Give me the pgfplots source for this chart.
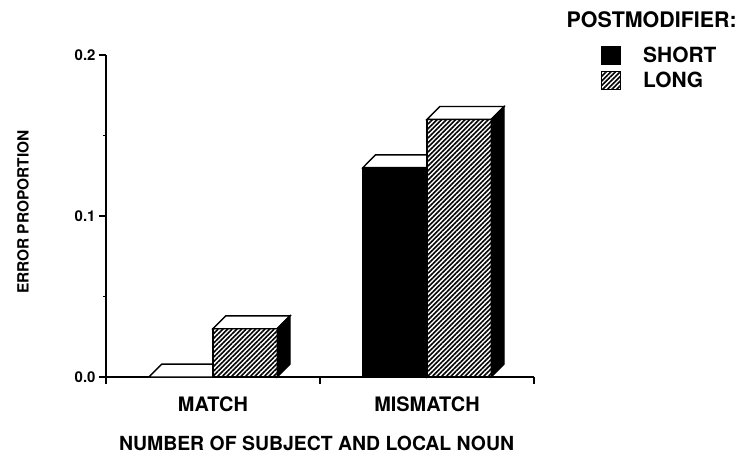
\documentclass[border=0pt]{standalone}
\usepackage{pgfplots}
\pgfplotsset{compat=1.18}
\usetikzlibrary{patterns.meta}
\usepackage{fontspec}
\setmainfont{TeX Gyre Heros}
\newcommand\fs[1]{\fontsize{#1}{#1}\selectfont\bfseries}

\begin{document}
\begin{tikzpicture}
\useasboundingbox (-106bp,-77bp) rectangle (634bp,377bp);
\begin{axis}[
  at={(0,0)}, anchor=south west,
  scale only axis, width=428bp, height=322bp,
  xmin=0, xmax=2, ymin=0, ymax=0.2,
  axis lines=left, axis line style={-, line width=1.4bp},
  clip=false,
  xtick={0,1,2}, xticklabel=\empty,
  ytick={0,0.1,0.2}, minor ytick={0.05,0.15},
  tick align=outside, major tick length=7bp, minor tick length=3bp,
  every tick/.style={line width=1.3bp, black},
  yticklabel={\pgfmathprintnumber[fixed,fixed zerofill,precision=1,assume math mode=true]{\tick}},
  yticklabel style={font=\fs{15}},
  ylabel={ERROR PROPORTION},
  ylabel style={at={(axis description cs:-0.194,0.512)}, anchor=center, font=\fs{15.5}},
  xlabel={NUMBER OF SUBJECT AND LOCAL NOUN},
  xlabel style={at={(axis description cs:0.492,-0.205)}, anchor=center, font=\fs{19.5}},
  hatch/.style={fill=white, postaction={pattern={Lines[angle=45,distance=3.3bp,line width=1.6bp]}}},
  sqlegend/.style={legend image code/.code={\draw[##1, line width=0.8bp] (0bp,-9bp) rectangle (19bp,9bp);}},
  legend style={at={(axis description cs:1.157,1.033)}, anchor=north west, draw=none, fill=none,
    font=\fs{21}, row sep=4bp, inner sep=0pt, nodes={inner sep=2bp},
    /tikz/every odd column/.append style={column sep=20bp}},
  legend cell align=left,
]
% SHORT: front faces
\addplot[ybar, bar width=0.3, bar shift=-0.15, fill=black, draw=black, line width=1.4bp, sqlegend]
  coordinates {(0.5,0) (1.5,0.13)};
\addlegendentry{SHORT}
% SHORT: top and side faces
\addplot[fill=white, draw=black, line width=1.4bp, forget plot]
  coordinates {(0.2,0) (0.26,0.008) (0.56,0.008) (0.5,0)} -- cycle;
\addplot[fill=white, draw=black, line width=1.4bp, forget plot]
  coordinates {(1.2,0.13) (1.26,0.138) (1.56,0.138) (1.5,0.13)} -- cycle;
\addplot[fill=black, draw=black, line width=1.4bp, forget plot]
  coordinates {(1.5,0) (1.56,0.008) (1.56,0.138) (1.5,0.13)} -- cycle;
% LONG: front faces
\addplot[ybar, bar width=0.3, bar shift=0.15, hatch, draw=black, line width=1.4bp, sqlegend]
  coordinates {(0.5,0.03) (1.5,0.16)};
\addlegendentry{LONG}
% LONG: top and side faces
\addplot[fill=white, draw=black, line width=1.4bp, forget plot]
  coordinates {(0.5,0.03) (0.56,0.038) (0.86,0.038) (0.8,0.03)} -- cycle;
\addplot[fill=black, draw=black, line width=1.4bp, forget plot]
  coordinates {(0.8,0) (0.86,0.008) (0.86,0.038) (0.8,0.03)} -- cycle;
\addplot[fill=white, draw=black, line width=1.4bp, forget plot]
  coordinates {(1.5,0.16) (1.56,0.168) (1.86,0.168) (1.8,0.16)} -- cycle;
\addplot[fill=black, draw=black, line width=1.4bp, forget plot]
  coordinates {(1.8,0) (1.86,0.008) (1.86,0.168) (1.8,0.16)} -- cycle;
% category labels and legend title
\node[font=\fs{20}, yshift=-27bp] at (axis cs:0.5,0) {MATCH};
\node[font=\fs{20}, yshift=-27bp] at (axis cs:1.5,0) {MISMATCH};
\node[font=\fs{21.5}, anchor=west] at (axis description cs:1.068,1.109) {POSTMODIFIER:};
\end{axis}
\end{tikzpicture}
\end{document}
